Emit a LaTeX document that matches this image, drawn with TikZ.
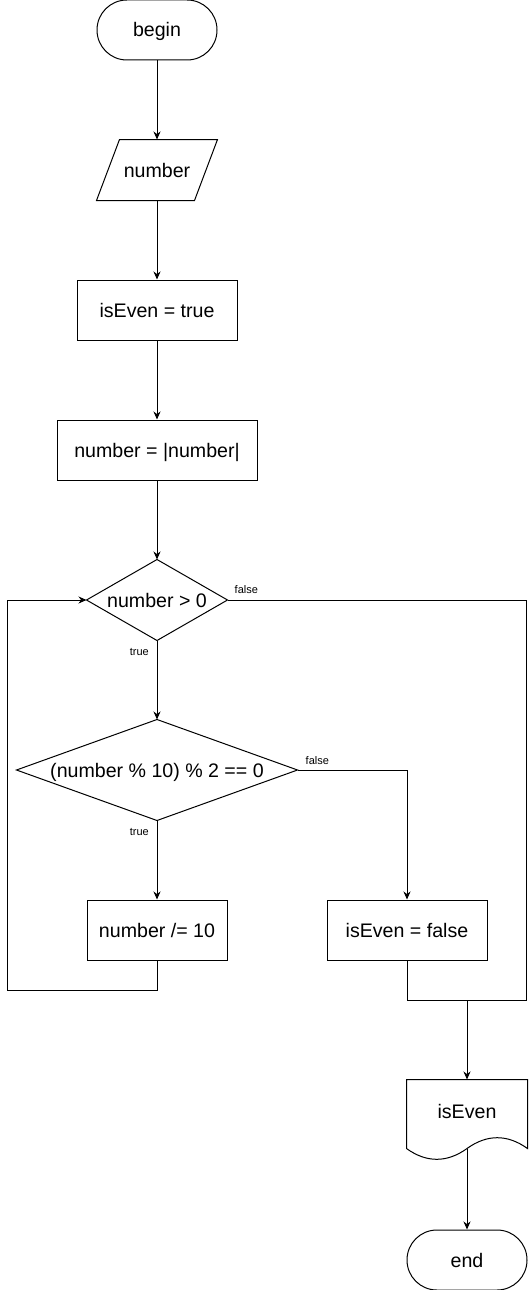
\documentclass[tikz,border=0pt]{standalone}
\usepackage{fontspec}
\setmainfont{Liberation Sans}
\usetikzlibrary{arrows.meta,calc}
\begin{document}
\begin{tikzpicture}[x=1pt,y=-1pt,
 base/.style={font=\fontsize{19.6}{22}\selectfont, inner sep=0pt, line width=1pt, text height=17pt, text depth=3pt},
 term/.style={base, draw, rounded corners=29.9pt, minimum width=120pt, minimum height=60pt},
 proc/.style={base, draw, minimum height=60pt},
 ghost/.style={base},
 lbl/.style={font=\fontsize{11}{13}\selectfont, inner sep=0pt},
 arr/.style={line width=1pt, -{Stealth[length=8pt,width=7pt]}},
 ln/.style={line width=1pt}]
\useasboundingbox (0,0) rectangle (530,1290);

% nodes
\node[term] (begin) at (157,30) {begin};
\node[ghost, minimum width=120pt, minimum height=60pt] (inp) at (157,170) {number};
\draw[ln] ($(inp.north west)+(23,0)$) -- (inp.north east) -- ($(inp.south east)+(-23,0)$) -- (inp.south west) -- cycle;
\node[proc, minimum width=160pt] (init) at (157,310) {isEven = true};
\node[proc, minimum width=200pt] (abs) at (157,450) {number = |number|};
\node[ghost, minimum width=140pt, minimum height=80pt] (d1) at (157,600) {number > 0};
\draw[ln] (d1.north) -- (d1.east) -- (d1.south) -- (d1.west) -- cycle;
\node[ghost, minimum width=280pt, minimum height=100pt] (d2) at (157,770) {(number \% 10) \% 2 == 0};
\draw[ln] (d2.north) -- (d2.east) -- (d2.south) -- (d2.west) -- cycle;
\node[proc, minimum width=140pt] (div) at (157,930) {number /= 10};
\node[proc, minimum width=160pt] (fls) at (407,930) {isEven = false};
\node[ghost, minimum width=120pt, minimum height=62pt] (out) at (467,1111) {isEven};
\draw[ln] (out.north west) -- (out.north east) -- ($(out.south east)+(0,6)$)
  .. controls ($(out.south east)+(-20,-8.4)$) and ($(out.south)+(20,-8.4)$) .. ($(out.south)+(0,6)$)
  .. controls ($(out.south)+(-20,20.4)$) and ($(out.south west)+(20,20.4)$) .. ($(out.south west)+(0,6)$) -- cycle;
\node[term] (end) at (467,1260) {end};

\coordinate (lp) at (7,990);
\coordinate (rc) at (526,600);
\coordinate (jn) at (467,1000);
\coordinate (ob) at ($(out.south)+(0,6)$);

% connectors
\draw[arr] (begin.south) -- (inp.north);
\draw[arr] (inp.south) -- (init.north);
\draw[arr] (init.south) -- (abs.north);
\draw[arr] (abs.south) -- (d1.north);
\draw[arr] (d1.south) -- (d2.north);
\draw[arr] (d2.south) -- (div.north);
\draw[arr] (d2.east) -| (fls.north);
\draw[arr] (div.south) |- (lp) |- (d1.west);
\draw[ln] (d1.east) -- (rc) |- (jn);
\draw[ln] (fls.south) |- (jn);
\draw[arr] (jn) -- (out.north);
\draw[arr] (ob) -- (end.north);

% labels
\node[lbl, anchor=west] (l1) at ($(d1.east)+(7,-10)$) {false};
\node[lbl, anchor=east] (l2) at ($(d1.south)+(-8,11)$) {true};
\node[lbl, anchor=west] (l3) at ($(d2.east)+(8,-9)$) {false};
\node[lbl, anchor=east] (l4) at ($(d2.south)+(-8,11)$) {true};
\end{tikzpicture}
\end{document}
